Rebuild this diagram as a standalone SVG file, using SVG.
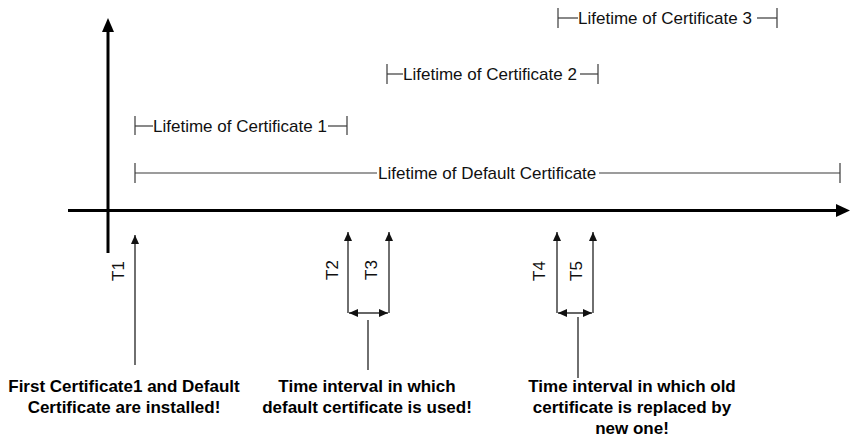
<svg xmlns="http://www.w3.org/2000/svg" width="850" height="441" viewBox="0 0 850 441">
<defs>
<style>
.lt{font-family:"Liberation Sans",Arial,sans-serif;font-size:17px;fill:#111}
.tl{font-family:"Liberation Sans",Arial,sans-serif;font-size:17px;fill:#111;text-anchor:middle}
.bl{font-family:"Liberation Sans",Arial,sans-serif;font-size:17px;font-weight:bold;fill:#000;text-anchor:middle}
.life{stroke:#3a3a3a;stroke-width:1.2;fill:none}
.thin{stroke:#333;stroke-width:1.4;fill:none}
.axis{stroke:#000;stroke-width:3;fill:none}
</style>
<marker id="ah" markerUnits="userSpaceOnUse" markerWidth="10" markerHeight="8" refX="9" refY="4" orient="auto">
<path d="M0,0 L9,4 L0,8 Z" fill="#111"/>
</marker>
<marker id="ahs" markerUnits="userSpaceOnUse" markerWidth="10" markerHeight="8" refX="0" refY="4" orient="auto">
<path d="M9,0 L0,4 L9,8 Z" fill="#111"/>
</marker>
</defs>
<rect width="850" height="441" fill="#fff"/>
<g id="axes">
<line class="axis" x1="108" y1="30" x2="108" y2="253"/>
<polygon points="108,18 102,32 114,32" fill="#000"/>
<line class="axis" x1="68" y1="210.5" x2="838" y2="210.5"/>
<polygon points="850,210.5 836,204 836,217" fill="#000"/>
</g>
<g id="lifetimes">
<g id="cert-default">
<line class="life" x1="135" y1="163" x2="135" y2="183"/>
<line class="life" x1="135" y1="173" x2="377" y2="173"/>
<line class="life" x1="599" y1="173" x2="840" y2="173"/>
<line class="life" x1="840" y1="163" x2="840" y2="183"/>
<text class="lt" x="378" y="179">Lifetime of Default Certificate</text>
</g>
<g id="cert-1">
<line class="life" x1="135" y1="116" x2="135" y2="135"/>
<line class="life" x1="135" y1="126" x2="153" y2="126"/>
<line class="life" x1="328" y1="126" x2="347" y2="126"/>
<line class="life" x1="347" y1="116" x2="347" y2="135"/>
<text class="lt" x="153" y="132">Lifetime of Certificate 1</text>
</g>
<g id="cert-2">
<line class="life" x1="387" y1="64" x2="387" y2="84"/>
<line class="life" x1="387" y1="74" x2="403" y2="74"/>
<line class="life" x1="580" y1="74" x2="598" y2="74"/>
<line class="life" x1="598" y1="64" x2="598" y2="84"/>
<text class="lt" x="403" y="80">Lifetime of Certificate 2</text>
</g>
<g id="cert-3">
<line class="life" x1="558" y1="8" x2="558" y2="28"/>
<line class="life" x1="558" y1="18" x2="578" y2="18"/>
<line class="life" x1="757" y1="18" x2="777" y2="18"/>
<line class="life" x1="777" y1="8" x2="777" y2="28"/>
<text class="lt" x="578" y="24">Lifetime of Certificate 3</text>
</g>
</g>
<g id="connectors">
<line class="thin" x1="135" y1="365" x2="135" y2="235" marker-end="url(#ah)"/>
<polyline class="thin" points="348,313 348,232" marker-end="url(#ah)"/>
<polyline class="thin" points="389,313 389,232" marker-end="url(#ah)"/>
<line class="thin" x1="349" y1="313" x2="388" y2="313" stroke-width="1.8" marker-start="url(#ahs)" marker-end="url(#ah)"/>
<line class="thin" x1="368" y1="320" x2="368" y2="370" stroke-width="1.8"/>
<polyline class="thin" points="557,313 557,232" marker-end="url(#ah)"/>
<polyline class="thin" points="593,313 593,232" marker-end="url(#ah)"/>
<line class="thin" x1="558" y1="313" x2="592" y2="313" stroke-width="1.8" marker-start="url(#ahs)" marker-end="url(#ah)"/>
<line class="thin" x1="578" y1="317" x2="578" y2="378" stroke-width="1.8"/>
</g>
<g id="time-labels">
<text class="tl" transform="translate(124,271) rotate(-90)">T1</text>
<text class="tl" transform="translate(338,270) rotate(-90)">T2</text>
<text class="tl" transform="translate(377,270) rotate(-90)">T3</text>
<text class="tl" transform="translate(545,271) rotate(-90)">T4</text>
<text class="tl" transform="translate(582,271) rotate(-90)">T5</text>
</g>
<g id="note-1">
<text class="bl" x="124" y="392">First Certificate1 and Default</text>
<text class="bl" x="124" y="413">Certificate are installed!</text>
</g>
<g id="note-2">
<text class="bl" x="367" y="392">Time interval in which</text>
<text class="bl" x="367" y="413">default certificate is used!</text>
</g>
<g id="note-3">
<text class="bl" x="632" y="392">Time interval in which old</text>
<text class="bl" x="632" y="413">certificate is replaced by</text>
<text class="bl" x="632" y="434">new one!</text>
</g>
</svg>
